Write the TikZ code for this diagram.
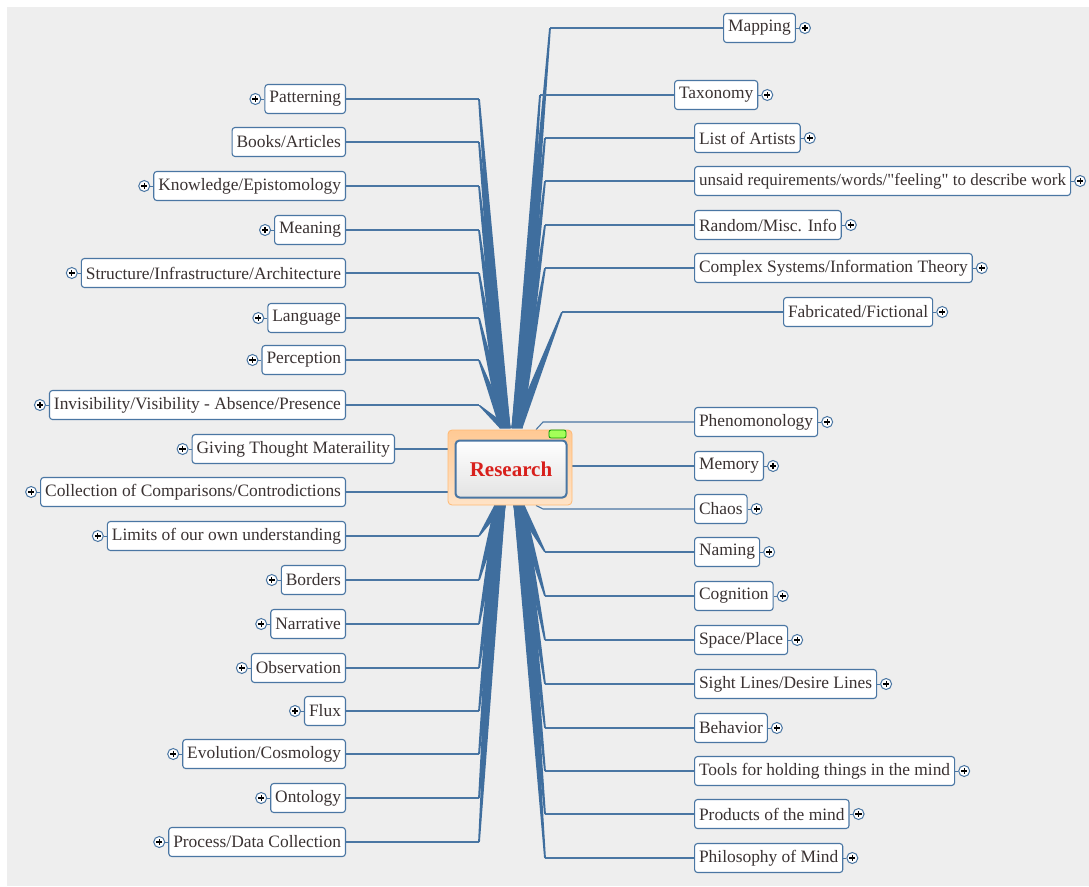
\documentclass[tikz,border=0pt]{standalone}
\usepackage{fontspec}
\setmainfont{Liberation Serif}
\usetikzlibrary{positioning,calc}
\definecolor{mapblue}{HTML}{4A76A3}
\definecolor{fanblue}{HTML}{3F6E9E}
\definecolor{mapbg}{HTML}{EEEEEE}
\definecolor{inktext}{HTML}{3A3232}
\definecolor{rootred}{HTML}{D8201C}
\pgfdeclarelayer{paper}
\pgfdeclarelayer{wires}
\pgfsetlayers{paper,wires,main}
% tapered branch from an elbow down to a fan base
\newcommand{\twig}[2]{\fill[fanblue] ($(#1)+(-0.9,0)$) -- ($(#1)+(0.9,0)$) -- ($(#2)+(5.5,0)$) -- ($(#2)+(-5.5,0)$) -- cycle;}
\tikzset{
  topic/.style={
    draw=mapblue, line width=1.1pt, rounded corners=3pt,
    fill=white, text=inktext, minimum height=29pt,
    inner xsep=4.5pt, inner ysep=0pt,
    font=\fontsize{17.4}{17.4}\selectfont
  },
  plusic/.style={
    circle, draw=mapblue, fill=white, line width=1pt,
    minimum size=11pt, inner sep=0pt,
    path picture={
      \draw[black, line width=1.2pt]
        (path picture bounding box.west) ++(2.4pt,0) -- ++(6.2pt,0)
        (path picture bounding box.north) ++(0,-2.4pt) -- ++(0,-6.2pt);
    }
  },
  link/.style={draw=mapblue, line width=1.1pt}
}

\begin{document}
\begin{tikzpicture}[x=1pt, y=-1pt]
  \useasboundingbox (0,0) rectangle (1089,886);
  \begin{pgfonlayer}{paper}
    \fill[mapbg] (7,7) rectangle (1089,886);
  \end{pgfonlayer}

  % left side
  \node[topic, anchor=east] (pat) at (346,99) {Patterning};
  \node[topic, anchor=east] (books) at (346,142) {Books/Articles};
  \node[topic, anchor=east] (know) at (346,186) {Knowledge/Epistomology};
  \node[topic, anchor=east] (mean) at (346,230) {Meaning};
  \node[topic, anchor=east] (struct) at (346,273) {Structure/Infrastructure/Architecture};
  \node[topic, anchor=east] (lang) at (346,318) {Language};
  \node[topic, anchor=east] (perc) at (346,360) {Perception};
  \node[topic, anchor=east] (invis) at (346,405) {Invisibility/Visibility - Absence/Presence};
  \node[topic, anchor=east] (giving) at (395,449) {Giving Thought Materaility};
  \node[topic, anchor=east] (coll) at (346,492) {Collection of Comparisons/Controdictions};
  \node[topic, anchor=east] (limits) at (346,536) {Limits of our own understanding};
  \node[topic, anchor=east] (borders) at (346,580) {Borders};
  \node[topic, anchor=east] (narr) at (346,624) {Narrative};
  \node[topic, anchor=east] (obs) at (346,668) {Observation};
  \node[topic, anchor=east] (flux) at (346,711) {Flux};
  \node[topic, anchor=east] (evol) at (346,754) {Evolution/Cosmology};
  \node[topic, anchor=east] (onto) at (346,798) {Ontology};
  \node[topic, anchor=east] (proc) at (346,842) {Process/Data Collection};

  % right side
  \node[topic, anchor=west] (mapping) at (723,28) {Mapping};
  \node[topic, anchor=west] (tax) at (674,95) {Taxonomy};
  \node[topic, anchor=west] (artists) at (694,138) {List of Artists};
  \node[topic, anchor=west, font=\fontsize{17}{17}\selectfont] (unsaid) at (694,181) {unsaid requirements/words/\textquotedbl feeling\textquotedbl{} to describe work};
  \node[topic, anchor=west] (random) at (694,225) {Random/Misc. Info};
  \node[topic, anchor=west] (complex) at (694,268) {Complex Systems/Information Theory};
  \node[topic, anchor=west] (fab) at (783,312) {Fabricated/Fictional};
  \node[topic, anchor=west] (phen) at (694,422) {Phenomonology};
  \node[topic, anchor=west] (memory) at (694,466) {Memory};
  \node[topic, anchor=west] (chaos) at (694,509) {Chaos};
  \node[topic, anchor=west] (naming) at (694,552) {Naming};
  \node[topic, anchor=west] (cog) at (694,596) {Cognition};
  \node[topic, anchor=west] (space) at (694,640) {Space/Place};
  \node[topic, anchor=west] (sight) at (694,684) {Sight Lines/Desire Lines};
  \node[topic, anchor=west] (behav) at (694,728) {Behavior};
  \node[topic, anchor=west] (tools) at (694,771) {Tools for holding things in the mind};
  \node[topic, anchor=west] (prod) at (694,814) {Products of the mind};
  \node[topic, anchor=west] (philo) at (694,858) {Philosophy of Mind};

  % expand buttons
  \foreach \n in {pat,know,mean,struct,lang,perc,invis,giving,coll,limits,borders,narr,obs,flux,evol,onto,proc}{
    \node[plusic, left=3pt of \n] (\n p) {};
    \draw[link, line width=0.9pt] (\n p) -- (\n);
  }
  \foreach \n in {mapping,tax,artists,unsaid,random,complex,fab,phen,memory,chaos,naming,cog,space,sight,behav,tools,prod,philo}{
    \node[plusic, right=3pt of \n] (\n p) {};
    \draw[link, line width=0.9pt] (\n p) -- (\n);
  }

  % central topic
  \node[draw=orange!55, line width=0.8pt, rounded corners=4pt,
        top color=orange!42!white, bottom color=orange!22!white,
        minimum width=124pt, minimum height=75pt] (root) at (510,467.5) {};
  \node[draw=mapblue, line width=2pt, rounded corners=4pt,
        top color=white, bottom color=gray!22,
        minimum width=111pt, minimum height=57pt,
        text=rootred, font=\fontsize{21}{21}\selectfont\bfseries] (rootin) at (511,469) {Research};
  \node[draw=green!60!black, line width=0.8pt, rounded corners=2pt,
        fill=green!55!yellow!65!white, minimum width=17pt, minimum height=8pt,
        inner sep=0pt] (tab) at (557.5,434) {};

  \coordinate (elbl) at (479,0);
  \coordinate (elbr) at (545,0);
  \coordinate (ftl) at (505,428);
  \coordinate (ftr) at (517,428);
  \coordinate (fbl) at (500,505);
  \coordinate (fbr) at (519,505);

  \begin{pgfonlayer}{wires}
    \foreach \n in {pat,books,know,mean,struct,lang,perc,invis}{
      \coordinate (\n k) at (\n.east -| elbl);
      \draw[link] (\n) -- (\n k);
      \twig{\n k}{ftl}
    }
    \foreach \n in {limits,borders,narr,obs,flux,evol,onto,proc}{
      \coordinate (\n k) at (\n.east -| elbl);
      \draw[link] (\n) -- (\n k);
      \twig{\n k}{fbl}
    }
    \coordinate (mappingk) at (550,28);
    \coordinate (taxk) at (540,95);
    \coordinate (fabk) at (562,312);
    \foreach \n in {artists,unsaid,random,complex}
      \coordinate (\n k) at (\n.west -| elbr);
    \foreach \n in {mapping,tax,artists,unsaid,random,complex,fab}{
      \draw[link] (\n) -- (\n k);
      \twig{\n k}{ftr}
    }
    \foreach \n in {naming,cog,space,sight,behav,tools,prod,philo}{
      \coordinate (\n k) at (\n.west -| elbr);
      \draw[link] (\n) -- (\n k);
      \twig{\n k}{fbr}
    }
    \coordinate (phenk) at (543,422);
    \coordinate (chaosk) at (543,509);
    \draw[link] (phen) -- (phenk) -- (root.north -| 536,0);
    \draw[link] (chaos) -- (chaosk) -- (root.south -| 536,0);
    \draw[link] (giving.east) -- (giving.east -| root.west);
    \draw[link] (coll.east) -- (coll.east -| root.west);
    \draw[link] (memory.west) -- (memory.west -| root.east);
  \end{pgfonlayer}
\end{tikzpicture}
\end{document}
